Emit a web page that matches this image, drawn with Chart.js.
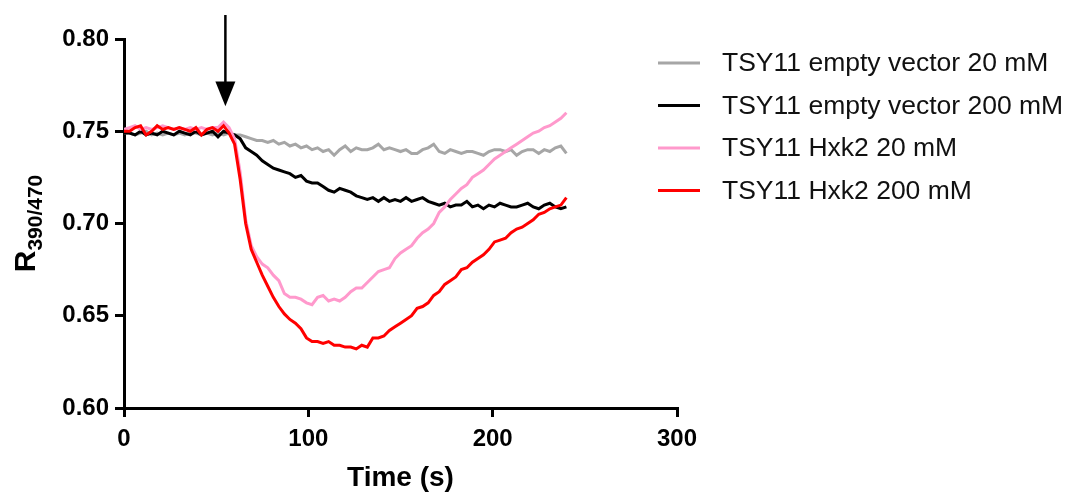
<!DOCTYPE html>
<html>
<head>
<meta charset="utf-8">
<script src="https://cdn.jsdelivr.net/npm/chart.js@4.4.1/dist/chart.umd.min.js"></script>
<style>
  html, body { margin: 0; padding: 0; background: #ffffff; }
  #c { display: block; }
</style>
</head>
<body>
<canvas id="c" width="1067" height="495"></canvas>
<script>
// ---- data ----
const seriesLabels = [
  "TSY11 empty vector 20 mM",
  "TSY11 empty vector 200 mM",
  "TSY11 Hxk2 20 mM",
  "TSY11 Hxk2 200 mM"
];
const seriesColors = ["#a6a6a6", "#000000", "#ff99cc", "#ff0000"];

const timeSec = [0,3,6,9,12,15,18,21,24,27,30,33,36,39,42,45,48,51,54,57,
  60,63,66,69,72,75,78,81,84,87,90,93,96,99,102,105,108,111,114,117,
  120,123,126,129,132,135,138,141,144,147,150,153,156,159,162,165,168,171,174,177,
  180,183,186,189,192,195,198,201,204,207,210,213,216,219,222,225,228,231,234,237,240];

const emptyVector20 = [0.749,0.749,0.748,0.749,0.750,0.748,0.749,0.748,0.749,0.748,
  0.749,0.748,0.749,0.749,0.748,0.749,0.748,0.749,0.748,0.749,
  0.748,0.748,0.747,0.746,0.745,0.745,0.744,0.745,0.743,0.744,
  0.742,0.743,0.741,0.742,0.740,0.741,0.739,0.740,0.737,0.740,
  0.742,0.739,0.741,0.740,0.740,0.741,0.743,0.740,0.741,0.740,
  0.739,0.740,0.738,0.738,0.740,0.741,0.743,0.739,0.738,0.740,
  0.739,0.738,0.739,0.739,0.738,0.737,0.739,0.740,0.740,0.739,
  0.740,0.737,0.739,0.740,0.740,0.738,0.740,0.739,0.741,0.742,0.738];

const emptyVector200 = [0.749,0.749,0.748,0.750,0.748,0.749,0.748,0.750,0.749,0.748,
  0.750,0.749,0.748,0.750,0.748,0.749,0.750,0.747,0.750,0.749,
  0.748,0.746,0.741,0.739,0.737,0.734,0.732,0.730,0.729,0.728,
  0.727,0.725,0.726,0.723,0.722,0.722,0.720,0.718,0.717,0.719,
  0.718,0.717,0.715,0.714,0.713,0.714,0.712,0.714,0.712,0.713,
  0.712,0.714,0.712,0.713,0.714,0.712,0.711,0.710,0.711,0.709,
  0.710,0.710,0.712,0.709,0.710,0.708,0.710,0.709,0.711,0.710,
  0.709,0.709,0.710,0.711,0.709,0.708,0.710,0.711,0.709,0.708,0.709];

const hxk2_20 = [0.751,0.752,0.753,0.751,0.752,0.751,0.752,0.753,0.752,0.751,
  0.752,0.751,0.752,0.751,0.752,0.751,0.752,0.752,0.755,0.752,
  0.746,0.728,0.702,0.688,0.682,0.678,0.676,0.672,0.669,0.662,
  0.660,0.660,0.659,0.657,0.656,0.660,0.661,0.658,0.659,0.658,
  0.660,0.663,0.665,0.665,0.668,0.671,0.674,0.675,0.676,0.681,
  0.684,0.686,0.688,0.692,0.695,0.697,0.700,0.706,0.709,0.713,
  0.716,0.719,0.721,0.725,0.727,0.729,0.732,0.735,0.737,0.739,
  0.741,0.743,0.745,0.747,0.749,0.750,0.752,0.753,0.755,0.757,0.760];

const hxk2_200 = [0.750,0.750,0.752,0.753,0.748,0.750,0.753,0.751,0.752,0.751,
  0.752,0.751,0.750,0.752,0.748,0.751,0.752,0.750,0.753,0.749,
  0.743,0.724,0.700,0.686,0.679,0.672,0.666,0.660,0.655,0.651,
  0.648,0.646,0.643,0.638,0.636,0.636,0.635,0.636,0.634,0.634,
  0.633,0.633,0.632,0.634,0.633,0.638,0.638,0.639,0.642,0.644,
  0.646,0.648,0.650,0.654,0.655,0.657,0.661,0.663,0.667,0.669,
  0.671,0.675,0.676,0.679,0.681,0.683,0.686,0.690,0.691,0.692,
  0.695,0.697,0.698,0.700,0.702,0.705,0.706,0.708,0.709,0.710,0.714];

const xTickValues = [0, 100, 200, 300];
const yTickValues = [0.60, 0.65, 0.70, 0.75, 0.80];
const xAxisTitle = "Time (s)";
const yAxisTitleMain = "R";
const yAxisTitleSub = "390/470";

// glucose addition arrow (time in s, ratio values)
const arrowTime = 55;
const arrowTopValue = 0.813;
const arrowHeadStartValue = 0.777;
const arrowTipValue = 0.7635;

// ---- build ----
const allSeries = [emptyVector20, emptyVector200, hxk2_20, hxk2_200];
const drawOrder = [4, 3, 2, 1];
const datasets = allSeries.map((vals, i) => ({
  label: seriesLabels[i],
  data: vals.map((v, k) => ({ x: timeSec[k], y: v })),
  borderColor: seriesColors[i],
  backgroundColor: seriesColors[i],
  borderWidth: 3,
  pointRadius: 0,
  tension: 0,
  fill: false,
  order: drawOrder[i]
}));

const extrasPlugin = {
  id: 'extras',
  afterDraw(chart) {
    const ctx = chart.ctx;
    const xs = chart.scales.x, ys = chart.scales.y;
    const area = chart.chartArea;
    ctx.save();
    // arrow
    const ax = xs.getPixelForValue(arrowTime);
    const aTop = ys.getPixelForValue(arrowTopValue);
    const aHead = ys.getPixelForValue(arrowHeadStartValue);
    const aTip = ys.getPixelForValue(arrowTipValue);
    ctx.strokeStyle = '#000';
    ctx.lineWidth = 2.5;
    ctx.beginPath();
    ctx.moveTo(ax, aTop);
    ctx.lineTo(ax, aHead + 2);
    ctx.stroke();
    ctx.fillStyle = '#000';
    ctx.beginPath();
    ctx.moveTo(ax - 10, aHead);
    ctx.lineTo(ax + 10, aHead);
    ctx.lineTo(ax, aTip);
    ctx.closePath();
    ctx.fill();

    // y axis title with subscript
    const fMain = 'bold 30px "Liberation Sans", Arial, sans-serif';
    const fSub = 'bold 21px "Liberation Sans", Arial, sans-serif';
    ctx.font = fMain;
    const wMain = ctx.measureText(yAxisTitleMain).width;
    ctx.font = fSub;
    const wSub = ctx.measureText(yAxisTitleSub).width;
    const total = wMain + wSub;
    const cy = (area.top + area.bottom) / 2;
    ctx.translate(35, cy);
    ctx.rotate(-Math.PI / 2);
    ctx.fillStyle = '#000';
    ctx.textBaseline = 'alphabetic';
    ctx.textAlign = 'left';
    ctx.font = fMain;
    ctx.fillText(yAxisTitleMain, -total / 2, 0);
    ctx.font = fSub;
    ctx.fillText(yAxisTitleSub, -total / 2 + wMain, 7);
    ctx.setTransform(1, 0, 0, 1, 0, 0);

    // legend
    const lx0 = area.right - 19;
    const lx1 = lx0 + 42;
    const tx = lx1 + 22;
    const rowY0 = area.top + 24;
    const rowGap = 42.5;
    ctx.font = '26.5px "Liberation Sans", Arial, sans-serif';
    ctx.textBaseline = 'middle';
    chart.data.datasets.forEach((ds, i) => {
      const y = rowY0 + i * rowGap;
      ctx.strokeStyle = ds.borderColor;
      ctx.lineWidth = 3;
      ctx.beginPath();
      ctx.moveTo(lx0, y);
      ctx.lineTo(lx1, y);
      ctx.stroke();
      ctx.fillStyle = '#111';
      ctx.fillText(ds.label, tx, y + 1);
    });
    ctx.restore();
  }
};

const tickFont = { family: '"Liberation Sans", Arial, sans-serif', size: 24, weight: 'bold' };

new Chart(document.getElementById('c'), {
  type: 'line',
  data: { datasets },
  options: {
    responsive: false,
    devicePixelRatio: 1,
    animation: false,
    layout: { padding: { left: 0, top: 39, right: 390, bottom: 0 } },
    plugins: { legend: { display: false }, tooltip: { enabled: false }, title: { display: false } },
    scales: {
      x: {
        type: 'linear',
        min: 0, max: 300,
        afterBuildTicks: (s) => { s.ticks = xTickValues.map(v => ({ value: v })); },
        afterFit: (s) => { s.height = 87; },
        ticks: { font: tickFont, color: '#000', padding: 8, maxRotation: 0,
                 callback: (v) => String(v) },
        grid: { display: true, drawOnChartArea: false, drawTicks: true, tickLength: 9,
                color: '#000', lineWidth: 3 },
        border: { display: true, color: '#000', width: 3 },
        title: { display: true, text: xAxisTitle, color: '#000',
                 font: { family: '"Liberation Sans", Arial, sans-serif', size: 28, weight: 'bold' },
                 padding: { top: 0, bottom: 0 } }
      },
      y: {
        type: 'linear',
        min: 0.60, max: 0.80,
        afterBuildTicks: (s) => { s.ticks = yTickValues.map(v => ({ value: v })); },
        afterFit: (s) => { s.width = 124; },
        ticks: { font: tickFont, color: '#000', padding: 6,
                 callback: (v) => Number(v).toFixed(2) },
        grid: { display: true, drawOnChartArea: false, drawTicks: true, tickLength: 9,
                color: '#000', lineWidth: 3 },
        border: { display: true, color: '#000', width: 3 }
      }
    }
  },
  plugins: [extrasPlugin]
});
</script>
</body>
</html>
